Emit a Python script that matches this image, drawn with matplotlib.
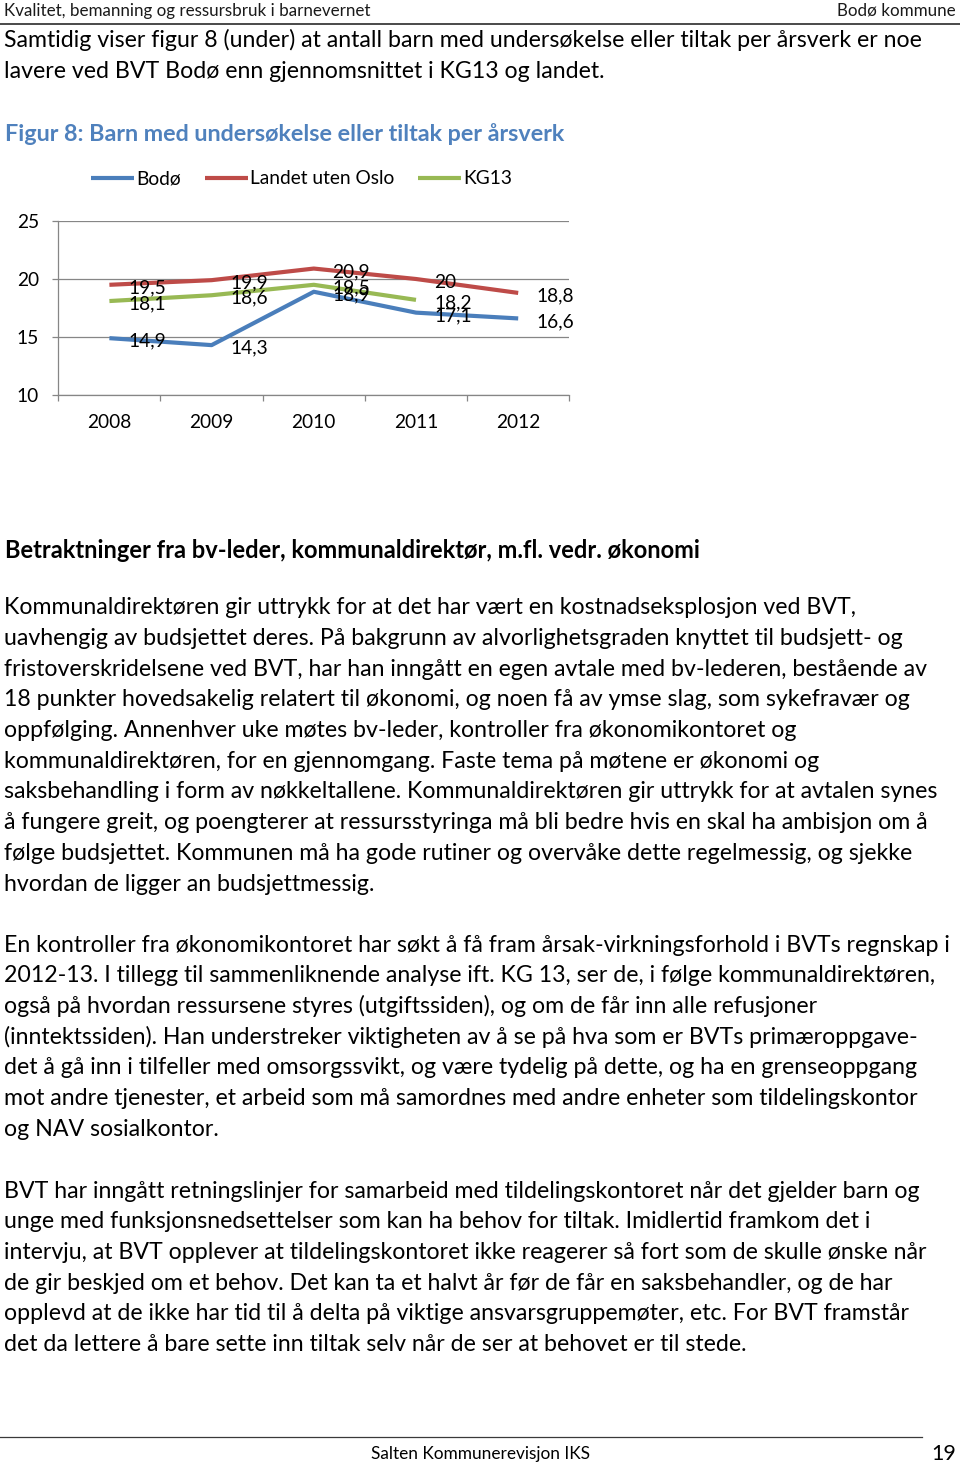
import matplotlib
matplotlib.use('Agg')
import matplotlib.pyplot as plt
from matplotlib.lines import Line2D
import numpy as np

# ---------------- data ----------------
years = ['2008', '2009', '2010', '2011', '2012']
bodo = [14.9, 14.3, 18.9, 17.1, 16.6]
landet = [19.5, 19.9, 20.9, 20.0, 18.8]
kg13 = [18.1, 18.6, 19.5, 18.2, None]
series_names = ['Bodø', 'Landet uten Oslo', 'KG13']
y_ticks = [10, 15, 20, 25]

header_left = 'Kvalitet, bemanning og ressursbruk i barnevernet'
header_right = 'Bodø kommune'
intro_lines = [
    'Samtidig viser figur 8 (under) at antall barn med undersøkelse eller tiltak per årsverk er noe',
    'lavere ved BVT Bodø enn gjennomsnittet i KG13 og landet.',
]
fig_title = 'Figur 8: Barn med undersøkelse eller tiltak per årsverk'
section_heading = 'Betraktninger fra bv-leder, kommunaldirektør, m.fl. vedr. økonomi'
para1 = [
    'Kommunaldirektøren gir uttrykk for at det har vært en kostnadseksplosjon ved BVT,',
    'uavhengig av budsjettet deres. På bakgrunn av alvorlighetsgraden knyttet til budsjett- og',
    'fristoverskridelsene ved BVT, har han inngått en egen avtale med bv-lederen, bestående av',
    '18 punkter hovedsakelig relatert til økonomi, og noen få av ymse slag, som sykefravær og',
    'oppfølging. Annenhver uke møtes bv-leder, kontroller fra økonomikontoret og',
    'kommunaldirektøren, for en gjennomgang. Faste tema på møtene er økonomi og',
    'saksbehandling i form av nøkkeltallene. Kommunaldirektøren gir uttrykk for at avtalen synes',
    'å fungere greit, og poengterer at ressursstyringa må bli bedre hvis en skal ha ambisjon om å',
    'følge budsjettet. Kommunen må ha gode rutiner og overvåke dette regelmessig, og sjekke',
    'hvordan de ligger an budsjettmessig.',
]
para2 = [
    'En kontroller fra økonomikontoret har søkt å få fram årsak-virkningsforhold i BVTs regnskap i',
    '2012-13. I tillegg til sammenliknende analyse ift. KG 13, ser de, i følge kommunaldirektøren,',
    'også på hvordan ressursene styres (utgiftssiden), og om de får inn alle refusjoner',
    '(inntektssiden). Han understreker viktigheten av å se på hva som er BVTs primæroppgave-',
    'det å gå inn i tilfeller med omsorgssvikt, og være tydelig på dette, og ha en grenseoppgang',
    'mot andre tjenester, et arbeid som må samordnes med andre enheter som tildelingskontor',
    'og NAV sosialkontor.',
]
para3 = [
    'BVT har inngått retningslinjer for samarbeid med tildelingskontoret når det gjelder barn og',
    'unge med funksjonsnedsettelser som kan ha behov for tiltak. Imidlertid framkom det i',
    'intervju, at BVT opplever at tildelingskontoret ikke reagerer så fort som de skulle ønske når',
    'de gir beskjed om et behov. Det kan ta et halvt år før de får en saksbehandler, og de har',
    'opplevd at de ikke har tid til å delta på viktige ansvarsgruppemøter, etc. For BVT framstår',
    'det da lettere å bare sette inn tiltak selv når de ser at behovet er til stede.',
]
footer_text = 'Salten Kommunerevisjon IKS'
page_number = '19'

# ---------------- setup ----------------
plt.rcParams['font.family'] = ['Lato', 'DejaVu Sans']
W, H = 960, 1463
fig = plt.figure(figsize=(W / 100, H / 100), dpi=100)
renderer = fig.canvas.get_renderer()


def fx(x):
    return x / W


def fy(y):
    return 1 - y / H


def fit_size(s, width, weight='normal'):
    t = fig.text(0, 0, s, fontsize=10, fontweight=weight)
    w = t.get_window_extent(renderer).width
    t.remove()
    return 10 * width / w


body_fs = fit_size(intro_lines[0], 933) * 0.985
head_fs = fit_size(header_left, 377) * 0.97
title_fs = fit_size(fig_title, 565, 'bold')
heading_fs = fit_size(section_heading, 699, 'bold')
chart_fs = fit_size(series_names[1], 145)
footer_fs = fit_size(footer_text, 219)
pagenum_fs = fit_size(page_number, 25)

# ---------------- page text ----------------
fig.text(fx(4), fy(15.8), header_left, fontsize=head_fs, va='baseline', ha='left', color='#1a1a1a')
fig.text(fx(956), fy(15.8), header_right, fontsize=head_fs, va='baseline', ha='right', color='#1a1a1a')
fig.add_artist(Line2D([0, 1], [fy(23.5), fy(23.5)], transform=fig.transFigure, color='#3a3a3a', lw=1.3))

LS = 30.75
for i, s in enumerate(intro_lines):
    fig.text(fx(4), fy(47.0 + i * LS), s, fontsize=body_fs, va='baseline', ha='left', color='black')

fig.text(fx(5), fy(140.7), fig_title, fontsize=title_fs, fontweight='bold', va='baseline',
         ha='left', color='#4F81BD')

fig.text(fx(5), fy(557.7), section_heading, fontsize=heading_fs, fontweight='bold',
         va='baseline', ha='left', color='black')

for start, lines in [(614.0, para1), (951.5, para2), (1197.5, para3)]:
    for i, s in enumerate(lines):
        fig.text(fx(4), fy(start + i * LS), s, fontsize=body_fs, va='baseline', ha='left',
                 color='black')

fig.add_artist(Line2D([0, fx(921.5)], [fy(1436.8), fy(1436.8)], transform=fig.transFigure,
                      color='#3a3a3a', lw=0.9))
fig.text(fx(480.5), fy(1459), footer_text, fontsize=footer_fs, va='baseline', ha='center',
         color='black')
fig.text(fx(956.5), fy(1460), page_number, fontsize=pagenum_fs, va='baseline', ha='right',
         color='black')

# ---------------- chart ----------------
x0, x1 = 58.3, 569.3
ytop, ybot = 221.0, 395.0
ax = fig.add_axes([fx(x0), fy(ybot), (x1 - x0) / W, (ybot - ytop) / H])
ax.set_xlim(-0.5, 4.5)
ax.set_ylim(min(y_ticks), max(y_ticks))

colors = ['#4A7EBB', '#BE4B48', '#98B954']
x = np.arange(len(years))
handles = []
for vals, name, c in zip([bodo, landet, kg13], series_names, colors):
    arr = np.array([np.nan if v is None else v for v in vals], dtype=float)
    ln, = ax.plot(x, arr, color=c, lw=3.0, solid_joinstyle='round', solid_capstyle='butt',
                  label=name, zorder=3)
    handles.append(ln)

# data labels
for vals in [bodo, landet, kg13]:
    for xi, v in zip(x, vals):
        if v is None:
            continue
        lab = ('%g' % v).replace('.', ',')
        ax.annotate(lab, (xi, v), xytext=(18.6, -1.5), textcoords='offset pixels',
                    va='center_baseline', ha='left', fontsize=chart_fs, color='black', zorder=4)

grid_c = '#868686'
ax.set_yticks(y_ticks)
ax.set_yticklabels([str(t) for t in y_ticks])
ax.yaxis.grid(True, color=grid_c, lw=0.9)
ax.set_axisbelow(True)
ax.set_xticks(x)
ax.set_xticklabels(years)
ax.set_xticks(np.arange(-0.5, 5.0, 1.0), minor=True)
ax.tick_params(axis='x', which='major', length=0, pad=14, labelsize=chart_fs)
ax.tick_params(axis='x', which='minor', length=4, width=0.9, color=grid_c, direction='out')
ax.tick_params(axis='y', length=4.5, width=0.9, color=grid_c, pad=9.5, labelsize=chart_fs)
for sp in ['top', 'right']:
    ax.spines[sp].set_visible(False)
for sp in ['left', 'bottom']:
    ax.spines[sp].set_color(grid_c)
    ax.spines[sp].set_linewidth(0.9)
ax.patch.set_alpha(0)

fs_px = chart_fs * 100 / 72
leg = ax.legend(handles=handles, ncol=3, loc='center left',
                bbox_to_anchor=(fx(91), fy(179)), bbox_transform=fig.transFigure,
                frameon=False, borderpad=0, borderaxespad=0, fontsize=chart_fs,
                handlelength=43 / fs_px, handletextpad=2.5 / fs_px, columnspacing=23.5 / fs_px)

fig.savefig('out.png', dpi=100)
